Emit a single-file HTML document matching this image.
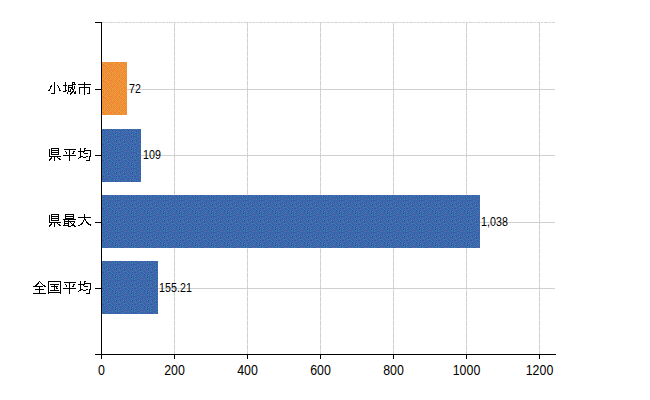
<!DOCTYPE html>
<html><head><meta charset="utf-8"><title>chart</title>
<style>
html,body{margin:0;padding:0;background:#fff;}
body{width:650px;height:400px;overflow:hidden;font-family:"Liberation Sans",sans-serif;}
svg{display:block;}
</style></head><body>
<svg width="650" height="400" viewBox="0 0 650 400">
<defs>
<pattern id="po" width="16" height="16" patternUnits="userSpaceOnUse"><rect width="16" height="16" fill="#F89635"/><path fill="#DA9635" d="M1 0h1v1h-1zM11 0h1v1h-1zM0 1h1v1h-1zM2 1h1v1h-1zM4 1h1v1h-1zM6 1h1v1h-1zM10 1h1v1h-1zM12 1h1v1h-1zM3 2h1v1h-1zM7 2h1v1h-1zM13 2h1v1h-1zM15 2h1v1h-1zM2 3h1v1h-1zM6 3h1v1h-1zM10 3h1v1h-1zM1 4h1v1h-1zM3 4h1v1h-1zM5 4h1v1h-1zM7 4h1v1h-1zM9 4h1v1h-1zM0 5h1v1h-1zM4 5h1v1h-1zM12 5h1v1h-1zM14 5h1v1h-1zM3 6h1v1h-1zM5 6h1v1h-1zM7 6h1v1h-1zM9 6h1v1h-1zM13 6h1v1h-1zM15 6h1v1h-1zM8 7h1v1h-1zM10 7h1v1h-1zM12 7h1v1h-1zM1 8h1v1h-1zM3 8h1v1h-1zM5 8h1v1h-1zM7 8h1v1h-1zM11 8h1v1h-1zM2 9h1v1h-1zM6 9h1v1h-1zM8 9h1v1h-1zM12 9h1v1h-1zM3 10h1v1h-1zM5 10h1v1h-1zM9 10h1v1h-1zM13 10h1v1h-1zM4 11h1v1h-1zM6 11h1v1h-1zM10 11h1v1h-1zM14 11h1v1h-1zM9 12h1v1h-1zM11 12h1v1h-1zM13 12h1v1h-1zM15 12h1v1h-1zM8 13h1v1h-1zM3 14h1v1h-1zM7 14h1v1h-1zM13 14h1v1h-1zM15 14h1v1h-1zM0 15h1v1h-1zM8 15h1v1h-1zM10 15h1v1h-1zM12 15h1v1h-1zM14 15h1v1h-1z"/><path fill="#DA7772" d="M3 0h1v1h-1zM1 10h1v1h-1zM11 10h1v1h-1zM11 14h1v1h-1z"/><path fill="#DA7735" d="M7 0h1v1h-1zM9 2h1v1h-1zM11 4h1v1h-1zM1 6h1v1h-1zM15 10h1v1h-1zM7 12h1v1h-1zM2 13h1v1h-1zM4 13h1v1h-1z"/><path fill="#F87735" d="M13 0h1v1h-1zM15 0h1v1h-1zM8 1h1v1h-1zM1 2h1v1h-1zM5 2h1v1h-1zM4 3h1v1h-1zM12 3h1v1h-1zM15 4h1v1h-1zM6 5h1v1h-1zM8 5h1v1h-1zM11 6h1v1h-1zM0 7h1v1h-1zM6 7h1v1h-1zM9 8h1v1h-1zM13 8h1v1h-1zM4 9h1v1h-1zM10 9h1v1h-1zM7 10h1v1h-1zM0 11h1v1h-1zM2 11h1v1h-1zM12 11h1v1h-1zM5 12h1v1h-1zM10 13h1v1h-1zM12 13h1v1h-1zM14 13h1v1h-1zM1 14h1v1h-1zM9 14h1v1h-1zM4 15h1v1h-1z"/><path fill="#F87753" d="M14 1h1v1h-1zM2 5h1v1h-1zM4 7h1v1h-1zM14 7h1v1h-1z"/><path fill="#F89653" d="M10 2h1v1h-1zM0 4h1v1h-1zM6 4h1v1h-1zM11 5h1v1h-1zM8 8h1v1h-1zM5 11h1v1h-1zM15 13h1v1h-1zM7 15h1v1h-1z"/><path fill="#BB9635" d="M14 3h1v1h-1zM15 8h1v1h-1zM1 12h1v1h-1zM5 14h1v1h-1z"/><path fill="#F8B435" d="M11 9h1v1h-1zM1 11h1v1h-1zM3 13h1v1h-1zM11 13h1v1h-1z"/></pattern>
<pattern id="pb" width="16" height="16" patternUnits="userSpaceOnUse"><rect width="16" height="16" fill="#3767A0"/><path fill="#3767BF" d="M1 0h1v1h-1zM3 0h1v1h-1zM9 0h1v1h-1zM13 0h1v1h-1zM2 1h1v1h-1zM4 1h1v1h-1zM14 1h1v1h-1zM3 2h1v1h-1zM5 2h1v1h-1zM9 2h1v1h-1zM11 2h1v1h-1zM0 3h1v1h-1zM6 3h1v1h-1zM12 3h1v1h-1zM1 4h1v1h-1zM11 4h1v1h-1zM0 5h1v1h-1zM4 5h1v1h-1zM10 5h1v1h-1zM14 5h1v1h-1zM11 6h1v1h-1zM13 6h1v1h-1zM15 6h1v1h-1zM2 7h1v1h-1zM8 7h1v1h-1zM3 8h1v1h-1zM11 8h1v1h-1zM13 8h1v1h-1zM15 8h1v1h-1zM0 9h1v1h-1zM2 9h1v1h-1zM12 9h1v1h-1zM14 9h1v1h-1zM1 10h1v1h-1zM5 10h1v1h-1zM11 10h1v1h-1zM0 11h1v1h-1zM2 11h1v1h-1zM4 11h1v1h-1zM10 11h1v1h-1zM12 11h1v1h-1zM14 11h1v1h-1zM1 12h1v1h-1zM9 12h1v1h-1zM15 12h1v1h-1zM4 13h1v1h-1zM6 13h1v1h-1zM8 13h1v1h-1zM10 13h1v1h-1zM3 14h1v1h-1zM5 14h1v1h-1zM9 14h1v1h-1zM13 14h1v1h-1zM15 14h1v1h-1zM6 15h1v1h-1zM10 15h1v1h-1z"/><path fill="#3748A0" d="M4 0h1v1h-1zM6 0h1v1h-1zM14 0h1v1h-1zM0 2h1v1h-1zM3 3h1v1h-1zM3 5h1v1h-1zM7 5h1v1h-1zM12 6h1v1h-1zM3 9h1v1h-1zM5 9h1v1h-1zM10 10h1v1h-1zM14 10h1v1h-1zM7 11h1v1h-1zM4 12h1v1h-1zM8 12h1v1h-1zM12 14h1v1h-1z"/><path fill="#3786BF" d="M5 0h1v1h-1zM15 0h1v1h-1zM0 1h1v1h-1zM8 1h1v1h-1zM2 3h1v1h-1zM4 3h1v1h-1zM14 3h1v1h-1zM7 4h1v1h-1zM9 4h1v1h-1zM6 5h1v1h-1zM3 6h1v1h-1zM0 7h1v1h-1zM6 7h1v1h-1zM4 9h1v1h-1zM10 9h1v1h-1zM7 10h1v1h-1zM6 11h1v1h-1zM7 12h1v1h-1zM13 12h1v1h-1zM12 15h1v1h-1z"/><path fill="#5548BF" d="M7 0h1v1h-1zM8 3h1v1h-1zM8 5h1v1h-1zM1 6h1v1h-1zM5 6h1v1h-1zM10 7h1v1h-1zM5 8h1v1h-1zM7 8h1v1h-1zM8 9h1v1h-1zM2 13h1v1h-1zM12 13h1v1h-1zM0 15h1v1h-1z"/><path fill="#5567BF" d="M11 0h1v1h-1zM13 2h1v1h-1zM13 4h1v1h-1zM1 14h1v1h-1z"/><path fill="#5567A0" d="M3 1h1v1h-1zM5 1h1v1h-1zM10 1h1v1h-1zM1 2h1v1h-1zM15 2h1v1h-1zM5 3h1v1h-1zM7 3h1v1h-1zM11 3h1v1h-1zM2 4h1v1h-1zM15 5h1v1h-1zM4 6h1v1h-1zM10 6h1v1h-1zM13 7h2v1h-2zM1 8h1v1h-1zM11 9h1v1h-1zM0 10h1v1h-1zM2 10h1v1h-1zM4 10h1v1h-1zM13 10h1v1h-1zM5 11h1v1h-1zM8 11h1v1h-1zM11 11h1v1h-1zM15 11h1v1h-1zM10 12h1v1h-1zM5 13h1v1h-1zM9 13h1v1h-1zM6 14h1v1h-1zM14 14h1v1h-1zM3 15h1v1h-1zM8 15h1v1h-1zM13 15h1v1h-1z"/><path fill="#3786A0" d="M6 1h1v1h-1zM2 5h1v1h-1zM12 5h1v1h-1zM7 6h1v1h-1zM9 6h1v1h-1zM4 7h1v1h-1zM12 7h1v1h-1zM9 8h1v1h-1zM6 9h1v1h-1zM3 10h1v1h-1zM9 10h1v1h-1zM15 10h1v1h-1zM3 12h1v1h-1zM11 12h1v1h-1zM0 13h1v1h-1zM7 14h1v1h-1zM11 14h1v1h-1zM2 15h1v1h-1zM4 15h1v1h-1zM14 15h1v1h-1z"/></pattern>
</defs>
<rect width="650" height="400" fill="#fff"/>
<g shape-rendering="crispEdges">
<rect x="102" y="22" width="453" height="1" fill="#EDF1ED"/>
<line x1="102" y1="22.5" x2="555" y2="22.5" stroke="#D2D7D2" stroke-width="1" stroke-dasharray="3 1 2 1 4 1 2 1"/>
<rect x="174" y="23" width="1" height="331" fill="#CDD2CD"/>
<line x1="174.5" y1="26" x2="174.5" y2="354" stroke="#F8D4F8" stroke-width="1" stroke-dasharray="1 5"/>
<rect x="247" y="23" width="1" height="331" fill="#CDD2CD"/>
<line x1="247.5" y1="26" x2="247.5" y2="354" stroke="#F8D4F8" stroke-width="1" stroke-dasharray="1 5"/>
<rect x="320" y="23" width="1" height="331" fill="#CDD2CD"/>
<line x1="320.5" y1="26" x2="320.5" y2="354" stroke="#F8D4F8" stroke-width="1" stroke-dasharray="1 5"/>
<rect x="393" y="23" width="1" height="331" fill="#CDD2CD"/>
<line x1="393.5" y1="26" x2="393.5" y2="354" stroke="#F8D4F8" stroke-width="1" stroke-dasharray="1 5"/>
<rect x="466" y="23" width="1" height="331" fill="#CDD2CD"/>
<line x1="466.5" y1="26" x2="466.5" y2="354" stroke="#F8D4F8" stroke-width="1" stroke-dasharray="1 5"/>
<rect x="539" y="23" width="1" height="331" fill="#CDD2CD"/>
<line x1="539.5" y1="26" x2="539.5" y2="354" stroke="#F8D4F8" stroke-width="1" stroke-dasharray="1 5"/>
<rect x="102" y="89" width="453" height="1" fill="#CDD2CD"/>
<rect x="102" y="155" width="453" height="1" fill="#CDD2CD"/>
<rect x="102" y="222" width="453" height="1" fill="#CDD2CD"/>
<rect x="102" y="288" width="453" height="1" fill="#CDD2CD"/>
<rect x="102" y="62" width="25" height="53" fill="url(#po)"/>
<rect x="102" y="129" width="39" height="53" fill="url(#pb)"/>
<rect x="102" y="195" width="378" height="53" fill="url(#pb)"/>
<rect x="102" y="261" width="56" height="53" fill="url(#pb)"/>
<rect x="101" y="22" width="1" height="337" fill="#000"/>
<rect x="95" y="354" width="461" height="1" fill="#000"/>
<rect x="95" y="22" width="6" height="1" fill="#000"/>
<rect x="95" y="89" width="6" height="1" fill="#000"/>
<rect x="95" y="155" width="6" height="1" fill="#000"/>
<rect x="95" y="222" width="6" height="1" fill="#000"/>
<rect x="95" y="288" width="6" height="1" fill="#000"/>
<rect x="174" y="354" width="1" height="5" fill="#000"/>
<rect x="247" y="354" width="1" height="5" fill="#000"/>
<rect x="320" y="354" width="1" height="5" fill="#000"/>
<rect x="393" y="354" width="1" height="5" fill="#000"/>
<rect x="466" y="354" width="1" height="5" fill="#000"/>
<rect x="539" y="354" width="1" height="5" fill="#000"/>
<path fill="#000" d="M54 82h1v1h-1zM65 82h1v1h-1zM72 82h3v1h-3zM84 82h1v1h-1zM54 83h1v1h-1zM65 83h1v1h-1zM72 83h1v1h-1zM74 83h1v1h-1zM84 83h1v1h-1zM54 84h1v1h-1zM65 84h1v1h-1zM72 84h4v1h-4zM78 84h13v1h-13zM51 85h1v1h-1zM54 85h1v1h-1zM57 85h1v1h-1zM63 85h4v1h-4zM68 85h5v1h-5zM84 85h1v1h-1zM50 86h2v1h-2zM54 86h1v1h-1zM58 86h1v1h-1zM65 86h1v1h-1zM68 86h1v1h-1zM72 86h1v1h-1zM74 86h1v1h-1zM84 86h1v1h-1zM50 87h1v1h-1zM54 87h1v1h-1zM58 87h1v1h-1zM65 87h1v1h-1zM68 87h5v1h-5zM74 87h1v1h-1zM79 87h11v1h-11zM50 88h1v1h-1zM54 88h1v1h-1zM59 88h1v1h-1zM65 88h1v1h-1zM68 88h1v1h-1zM71 88h2v1h-2zM74 88h1v1h-1zM79 88h1v1h-1zM84 88h1v1h-1zM89 88h1v1h-1zM49 89h1v1h-1zM54 89h1v1h-1zM59 89h1v1h-1zM65 89h1v1h-1zM68 89h1v1h-1zM70 89h1v1h-1zM72 89h2v1h-2zM79 89h1v1h-1zM84 89h1v1h-1zM89 89h1v1h-1zM48 90h2v1h-2zM54 90h1v1h-1zM59 90h2v1h-2zM65 90h2v1h-2zM68 90h1v1h-1zM70 90h1v1h-1zM73 90h1v1h-1zM79 90h1v1h-1zM84 90h1v1h-1zM89 90h1v1h-1zM54 91h1v1h-1zM63 91h3v1h-3zM68 91h3v1h-3zM72 91h2v1h-2zM75 91h1v1h-1zM79 91h1v1h-1zM84 91h1v1h-1zM89 91h1v1h-1zM54 92h1v1h-1zM67 92h1v1h-1zM71 92h2v1h-2zM74 92h2v1h-2zM79 92h1v1h-1zM84 92h1v1h-1zM89 92h1v1h-1zM51 93h4v1h-4zM67 93h1v1h-1zM70 93h2v1h-2zM74 93h2v1h-2zM79 93h1v1h-1zM84 93h1v1h-1zM87 93h3v1h-3zM70 94h1v1h-1zM84 94h1v1h-1z"/>
<path fill="#000" d="M51 148h8v1h-8zM80 148h1v1h-1zM84 148h2v1h-2zM49 149h1v1h-1zM51 149h1v1h-1zM58 149h1v1h-1zM64 149h12v1h-12zM80 149h1v1h-1zM84 149h1v1h-1zM49 150h1v1h-1zM51 150h8v1h-8zM69 150h1v1h-1zM80 150h1v1h-1zM84 150h7v1h-7zM49 151h1v1h-1zM51 151h1v1h-1zM58 151h1v1h-1zM65 151h1v1h-1zM69 151h1v1h-1zM73 151h2v1h-2zM78 151h7v1h-7zM90 151h1v1h-1zM49 152h1v1h-1zM51 152h8v1h-8zM66 152h1v1h-1zM69 152h1v1h-1zM73 152h1v1h-1zM80 152h1v1h-1zM83 152h1v1h-1zM90 152h1v1h-1zM49 153h1v1h-1zM51 153h1v1h-1zM58 153h1v1h-1zM66 153h1v1h-1zM69 153h1v1h-1zM72 153h2v1h-2zM80 153h1v1h-1zM84 153h4v1h-4zM90 153h1v1h-1zM49 154h1v1h-1zM51 154h8v1h-8zM69 154h1v1h-1zM80 154h1v1h-1zM90 154h1v1h-1zM49 155h1v1h-1zM63 155h13v1h-13zM80 155h1v1h-1zM90 155h1v1h-1zM49 156h12v1h-12zM69 156h1v1h-1zM80 156h3v1h-3zM86 156h2v1h-2zM89 156h2v1h-2zM51 157h1v1h-1zM54 157h1v1h-1zM57 157h1v1h-1zM69 157h1v1h-1zM79 157h2v1h-2zM83 157h3v1h-3zM89 157h1v1h-1zM50 158h2v1h-2zM54 158h1v1h-1zM58 158h2v1h-2zM69 158h1v1h-1zM78 158h1v1h-1zM89 158h1v1h-1zM49 159h2v1h-2zM54 159h1v1h-1zM59 159h2v1h-2zM69 159h1v1h-1zM89 159h1v1h-1zM49 160h1v1h-1zM54 160h1v1h-1zM69 160h1v1h-1zM86 160h4v1h-4z"/>
<path fill="#000" d="M51 214h8v1h-8zM65 214h9v1h-9zM84 214h1v1h-1zM49 215h1v1h-1zM51 215h1v1h-1zM58 215h1v1h-1zM65 215h1v1h-1zM73 215h1v1h-1zM84 215h1v1h-1zM49 216h1v1h-1zM51 216h8v1h-8zM65 216h9v1h-9zM84 216h1v1h-1zM49 217h1v1h-1zM51 217h1v1h-1zM58 217h1v1h-1zM65 217h1v1h-1zM73 217h1v1h-1zM78 217h13v1h-13zM49 218h1v1h-1zM51 218h8v1h-8zM65 218h9v1h-9zM84 218h1v1h-1zM49 219h1v1h-1zM51 219h1v1h-1zM58 219h1v1h-1zM63 219h13v1h-13zM84 219h2v1h-2zM49 220h1v1h-1zM51 220h8v1h-8zM64 220h1v1h-1zM68 220h1v1h-1zM83 220h1v1h-1zM85 220h1v1h-1zM49 221h1v1h-1zM64 221h11v1h-11zM83 221h1v1h-1zM86 221h1v1h-1zM49 222h12v1h-12zM64 222h1v1h-1zM68 222h1v1h-1zM70 222h1v1h-1zM74 222h1v1h-1zM82 222h1v1h-1zM86 222h2v1h-2zM51 223h1v1h-1zM54 223h1v1h-1zM57 223h1v1h-1zM64 223h5v1h-5zM71 223h1v1h-1zM73 223h1v1h-1zM81 223h2v1h-2zM87 223h2v1h-2zM50 224h2v1h-2zM54 224h1v1h-1zM58 224h2v1h-2zM64 224h1v1h-1zM68 224h1v1h-1zM72 224h2v1h-2zM80 224h2v1h-2zM88 224h3v1h-3zM49 225h2v1h-2zM54 225h1v1h-1zM59 225h2v1h-2zM63 225h6v1h-6zM71 225h4v1h-4zM78 225h2v1h-2zM90 225h1v1h-1zM49 226h1v1h-1zM54 226h1v1h-1zM68 226h3v1h-3zM74 226h2v1h-2z"/>
<path fill="#000" d="M39 281h1v1h-1zM48 281h13v1h-13zM80 281h1v1h-1zM84 281h2v1h-2zM38 282h1v1h-1zM40 282h1v1h-1zM48 282h1v1h-1zM60 282h1v1h-1zM64 282h12v1h-12zM80 282h1v1h-1zM84 282h1v1h-1zM37 283h2v1h-2zM41 283h1v1h-1zM48 283h1v1h-1zM60 283h1v1h-1zM69 283h1v1h-1zM80 283h1v1h-1zM84 283h7v1h-7zM36 284h2v1h-2zM42 284h1v1h-1zM48 284h1v1h-1zM50 284h9v1h-9zM60 284h1v1h-1zM65 284h1v1h-1zM69 284h1v1h-1zM73 284h2v1h-2zM78 284h7v1h-7zM90 284h1v1h-1zM35 285h2v1h-2zM43 285h2v1h-2zM48 285h1v1h-1zM54 285h1v1h-1zM60 285h1v1h-1zM66 285h1v1h-1zM69 285h1v1h-1zM73 285h1v1h-1zM80 285h1v1h-1zM83 285h1v1h-1zM90 285h1v1h-1zM33 286h10v1h-10zM44 286h2v1h-2zM48 286h1v1h-1zM51 286h7v1h-7zM60 286h1v1h-1zM66 286h1v1h-1zM69 286h1v1h-1zM72 286h2v1h-2zM80 286h1v1h-1zM84 286h4v1h-4zM90 286h1v1h-1zM39 287h1v1h-1zM48 287h1v1h-1zM54 287h1v1h-1zM56 287h1v1h-1zM60 287h1v1h-1zM69 287h1v1h-1zM80 287h1v1h-1zM90 287h1v1h-1zM39 288h1v1h-1zM48 288h1v1h-1zM54 288h1v1h-1zM56 288h2v1h-2zM60 288h1v1h-1zM63 288h13v1h-13zM80 288h1v1h-1zM90 288h1v1h-1zM35 289h9v1h-9zM48 289h1v1h-1zM54 289h1v1h-1zM60 289h1v1h-1zM69 289h1v1h-1zM80 289h3v1h-3zM86 289h2v1h-2zM89 289h2v1h-2zM39 290h1v1h-1zM48 290h1v1h-1zM50 290h9v1h-9zM60 290h1v1h-1zM69 290h1v1h-1zM79 290h2v1h-2zM83 290h3v1h-3zM89 290h1v1h-1zM39 291h1v1h-1zM48 291h1v1h-1zM60 291h1v1h-1zM69 291h1v1h-1zM78 291h1v1h-1zM89 291h1v1h-1zM39 292h1v1h-1zM48 292h13v1h-13zM69 292h1v1h-1zM89 292h1v1h-1zM33 293h13v1h-13zM48 293h1v1h-1zM60 293h1v1h-1zM69 293h1v1h-1zM86 293h4v1h-4z"/>
</g>
<g font-family="'Liberation Sans', sans-serif" fill="#000">
<text transform="translate(101.50 375) scale(0.885 1)" font-size="14" text-anchor="middle">0</text>
<text transform="translate(174.50 375) scale(0.885 1)" font-size="14" text-anchor="middle">200</text>
<text transform="translate(247.50 375) scale(0.885 1)" font-size="14" text-anchor="middle">400</text>
<text transform="translate(320.50 375) scale(0.885 1)" font-size="14" text-anchor="middle">600</text>
<text transform="translate(393.50 375) scale(0.885 1)" font-size="14" text-anchor="middle">800</text>
<text transform="translate(466.50 375) scale(0.885 1)" font-size="14" text-anchor="middle">1000</text>
<text transform="translate(539.50 375) scale(0.885 1)" font-size="14" text-anchor="middle">1200</text>
<text transform="translate(129.10 93) scale(0.85 1)" font-size="12.6" text-anchor="start">72</text>
<text transform="translate(143.10 159) scale(0.85 1)" font-size="12.6" text-anchor="start">109</text>
<text transform="translate(481.10 226) scale(0.85 1)" font-size="12.6" text-anchor="start">1,038</text>
<text transform="translate(159.10 292) scale(0.85 1)" font-size="12.6" text-anchor="start">155.21</text>
</g>
</svg>
</body></html>
